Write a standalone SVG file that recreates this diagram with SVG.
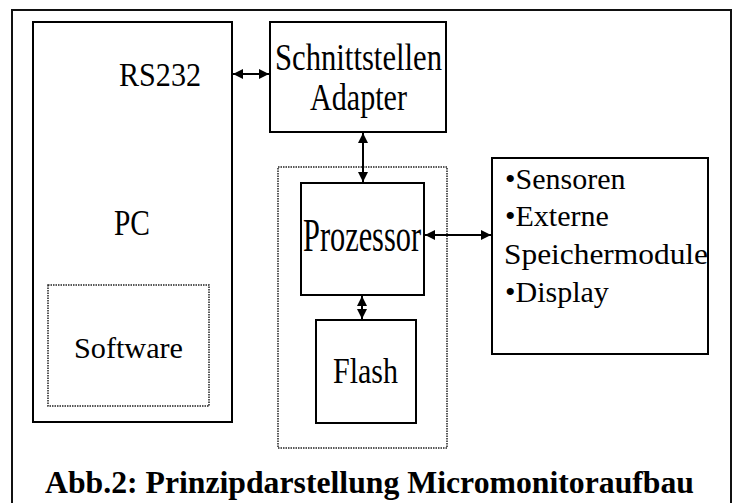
<svg xmlns="http://www.w3.org/2000/svg" width="736" height="503" viewBox="0 0 736 503">
  <style>
    .box { fill: none; stroke: #000; stroke-width: 2; }
    .dot { fill: none; stroke: #222; stroke-width: 1.5; stroke-dasharray: 1.5 1; }
    .frame { fill: none; stroke: #111; stroke-width: 2; }
    .t { font-family: "Liberation Serif", "Times New Roman", Times, serif; fill: #000; }
    .cap { font-weight: bold; }
    .wire { stroke: #000; stroke-width: 2; fill: none; }
  </style>
  <defs>
    <marker id="ah" viewBox="0 0 10 10" refX="10" refY="5" markerWidth="10" markerHeight="10" markerUnits="userSpaceOnUse" orient="auto-start-reverse">
      <path d="M0,0 L10,5 L0,10 Z" fill="#000"/>
    </marker>
  </defs>
  <rect width="736" height="503" fill="#fff"/>

  <!-- outer frame, open at the bottom -->
  <path class="frame" d="M12,510 V10 H731 V510"/>

  <g id="pc">
    <rect class="box" x="33" y="22" width="199" height="400"/>
    <text class="t" x="119" y="86" font-size="34" textLength="82" lengthAdjust="spacingAndGlyphs">RS232</text>
    <text class="t" x="114" y="235" font-size="36" textLength="36" lengthAdjust="spacingAndGlyphs">PC</text>
  </g>

  <g id="software">
    <rect class="dot" x="48" y="285" width="161" height="121"/>
    <text class="t" x="74" y="358" font-size="30" textLength="109" lengthAdjust="spacingAndGlyphs">Software</text>
  </g>

  <g id="adapter">
    <rect class="box" x="270" y="22" width="176" height="110"/>
    <text class="t" x="275" y="70" font-size="37" textLength="167" lengthAdjust="spacingAndGlyphs">Schnittstellen</text>
    <text class="t" x="310" y="110" font-size="37" textLength="97" lengthAdjust="spacingAndGlyphs">Adapter</text>
  </g>

  <g id="controller">
    <rect class="dot" x="278" y="167" width="169" height="281"/>
  </g>

  <g id="prozessor">
    <rect class="box" x="301" y="183" width="123" height="112"/>
    <text class="t" x="303" y="251" font-size="46" textLength="118" lengthAdjust="spacingAndGlyphs">Prozessor</text>
  </g>

  <g id="flash">
    <rect class="box" x="316" y="320" width="100" height="103"/>
    <text class="t" x="333" y="383" font-size="35" textLength="65" lengthAdjust="spacingAndGlyphs">Flash</text>
  </g>

  <g id="peripherie">
    <rect class="box" x="492" y="158" width="216" height="196"/>
    <text class="t" x="505" y="189" font-size="30">•Sensoren</text>
    <text class="t" x="505" y="226" font-size="30">•Externe</text>
    <text class="t" x="504" y="264" font-size="30" textLength="204" lengthAdjust="spacingAndGlyphs">Speichermodule</text>
    <text class="t" x="505" y="302" font-size="30">•Display</text>
  </g>

  <g id="connectors">
    <line class="wire" x1="233" y1="74" x2="269" y2="74" marker-start="url(#ah)" marker-end="url(#ah)"/>
    <line class="wire" x1="363" y1="133" x2="363" y2="182" marker-start="url(#ah)" marker-end="url(#ah)"/>
    <line class="wire" x1="425" y1="235" x2="491" y2="235" marker-start="url(#ah)" marker-end="url(#ah)"/>
    <line class="wire" x1="362" y1="296" x2="362" y2="319" marker-start="url(#ah)" marker-end="url(#ah)"/>
  </g>

  <g id="caption">
    <text class="t cap" x="45" y="493" font-size="32" textLength="649" lengthAdjust="spacingAndGlyphs">Abb.2: Prinzipdarstellung Micromonitoraufbau</text>
  </g>
</svg>
